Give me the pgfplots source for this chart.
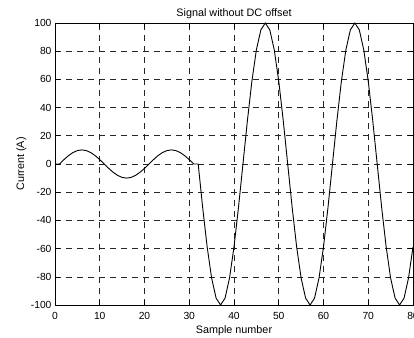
\documentclass[border=0pt]{standalone}
\usepackage{fontspec}
\setmainfont{Liberation Sans}
\usepackage{pgfplots}
\pgfplotsset{compat=1.18}
\begin{document}
\begin{tikzpicture}
\begin{axis}[
  name=ax,
  scale only axis,
  width=358bp, height=282bp,
  xmin=0, xmax=80, ymin=-100, ymax=100,
  xtick={0,10,...,80},
  ytick={-100,-80,...,100},
  /pgf/number format/assume math mode=true,
  tick align=inside,
  major tick length=5bp,
  tick style={black, line width=0.6bp},
  axis line style={black, line width=0.8bp},
  grid=major,
  major grid style={black!85, line width=0.6bp, dash pattern=on 6bp off 5bp},
  ticklabel style={font=\fontsize{10.3bp}{12bp}\selectfont},
  xticklabel style={yshift=-4bp},
  every axis title shift=0pt,
  title={Signal without DC offset},
  title style={at={(axis description cs:0.5,1.023)}, anchor=base, inner sep=0pt, font=\fontsize{10.8bp}{13bp}\selectfont},
  xlabel={Sample number},
  xlabel style={at={(axis description cs:0.5,-0.1028)}, anchor=base, inner sep=0pt, font=\fontsize{10.8bp}{13bp}\selectfont},
  ylabel={Current (A)},
  ylabel style={at={(axis description cs:-0.0866,0.5)}, anchor=base, inner sep=0pt, font=\fontsize{10.8bp}{13bp}\selectfont},
]
\addplot[black, line width=0.9bp] coordinates {
(0,0) (1,0) (2,3.090) (3,5.878) (4,8.090) (5,9.511) (6,10) (7,9.511) (8,8.090) (9,5.878) (10,3.090)
(11,0) (12,-3.090) (13,-5.878) (14,-8.090) (15,-9.511) (16,-10) (17,-9.511) (18,-8.090) (19,-5.878) (20,-3.090)
(21,0) (22,3.090) (23,5.878) (24,8.090) (25,9.511) (26,10) (27,9.511) (28,8.090) (29,5.878) (30,3.090)
(31,0) (32,0)
(33,-30.90) (34,-58.78) (35,-80.90) (36,-95.11) (37,-100) (38,-95.11) (39,-80.90) (40,-58.78) (41,-30.90)
(42,0) (43,30.90) (44,58.78) (45,80.90) (46,95.11) (47,100) (48,95.11) (49,80.90) (50,58.78) (51,30.90)
(52,0) (53,-30.90) (54,-58.78) (55,-80.90) (56,-95.11) (57,-100) (58,-95.11) (59,-80.90) (60,-58.78) (61,-30.90)
(62,0) (63,30.90) (64,58.78) (65,80.90) (66,95.11) (67,100) (68,95.11) (69,80.90) (70,58.78) (71,30.90)
(72,0) (73,-30.90) (74,-58.78) (75,-80.90) (76,-95.11) (77,-100) (78,-95.11) (79,-80.90) (80,-58.78)
};
\end{axis}
\pgfresetboundingbox
\useasboundingbox ([xshift=-55bp,yshift=-33bp]ax.south west) rectangle ([xshift=1bp,yshift=23bp]ax.north east);
\end{tikzpicture}
\end{document}
